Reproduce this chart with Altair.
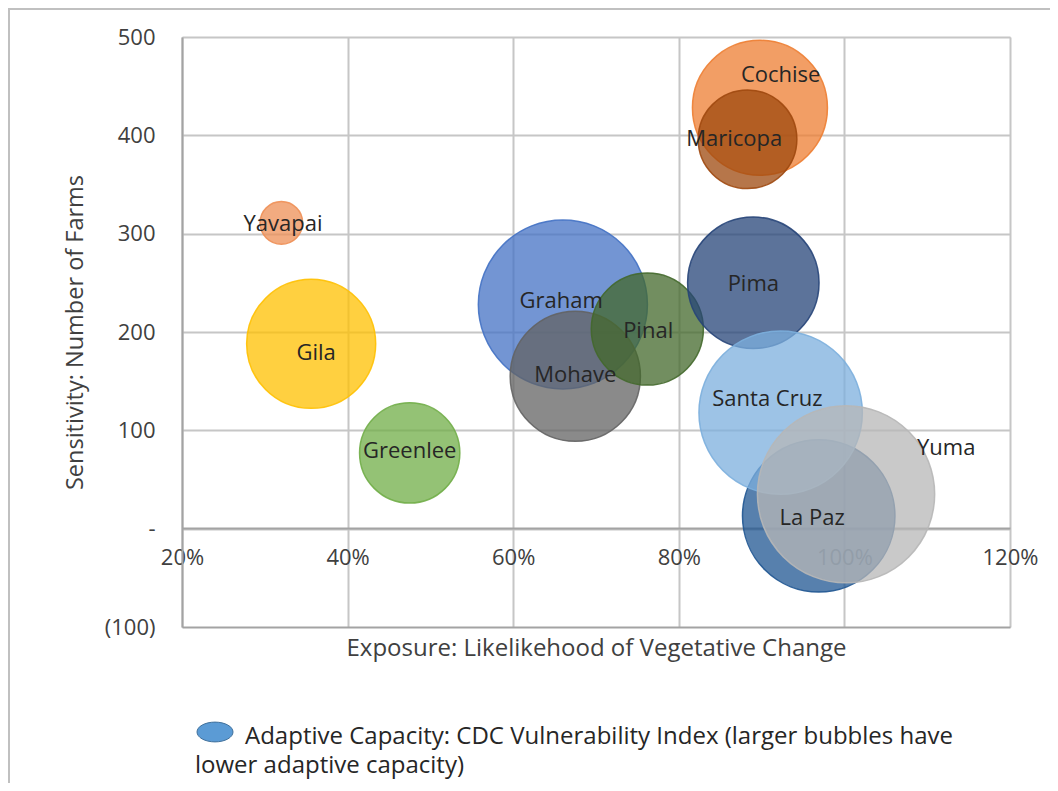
import altair as alt
import pandas as pd

# ---- data ----
counties = ["Cochise", "Maricopa", "Yavapai", "Gila", "Greenlee", "Graham",
            "Mohave", "Pinal", "Pima", "La Paz", "Santa Cruz", "Yuma"]
exposure = [0.898, 0.883, 0.320, 0.356, 0.475, 0.660,
            0.675, 0.762, 0.890, 0.969, 0.923, 1.002]
farms = [428, 396, 311, 188, 77, 228, 155, 203, 250, 13, 118, 35]
capacity = [0.58, 0.31, 0.058, 0.53, 0.32, 0.91, 0.54, 0.40, 0.55, 0.74, 0.85, 1.00]
label_x = [0.923, 0.867, 0.322, 0.362, 0.475, 0.658, 0.675, 0.763, 0.890, 0.961, 0.907, 1.123]
label_y = [461, 396, 310, 179, 79, 232, 156, 201, 249, 11, 132, 82]
colors = ["#ED7D31", "#9E480E", "#EE8F55", "#FFC000", "#70AD47", "#4472C4",
          "#636363", "#43682B", "#264478", "#1F5591", "#7CAFDD", "#B7B7B7"]

x_ticks = [0.2, 0.4, 0.6, 0.8, 1.0, 1.2]
y_ticks = [-100, 0, 100, 200, 300, 400, 500]

x_title = "Exposure: Likelikehood of Vegetative Change"
y_title = "Sensitivity: Number of Farms"
legend_line1 = "Adaptive Capacity: CDC Vulnerability Index (larger bubbles have"
legend_line2 = "lower adaptive capacity)"

FONT = "Open Sans"

df = pd.DataFrame({
    "county": counties,
    "exposure": exposure,
    "farms": farms,
    "capacity": capacity,
    "lx": label_x,
    "ly": label_y,
    "draw": list(range(len(counties))),
})

color_scale = alt.Scale(domain=counties, range=colors)
x_scale = alt.Scale(domain=[0.2, 1.2], nice=False, zero=False)
y_scale = alt.Scale(domain=[-100, 500], nice=False, zero=False)

nb = "\u00a0"
y_label_expr = (
    "datum.value == 0 ? '-" + nb * 3 + "' : (datum.value < 0 ? '(' + format(-datum.value, 'd') + ')' "
    ": format(datum.value, 'd') + '" + nb + "')"
)

x_enc = alt.X(
    "exposure:Q", scale=x_scale,
    axis=alt.Axis(
        values=x_ticks, format=".0%", title=x_title, offset=-99,
        domainColor="#A3A3A3", domainWidth=2, ticks=False, labelFlush=False,
        labelPadding=19, labelFontSize=22, labelColor="#404040", labelFont=FONT,
        gridColor="#C6C6C6", gridWidth=2,
        titleFont=FONT, titleFontSize=24, titleFontWeight="normal", titleColor="#404040",
        titleY=120, titleBaseline="middle",
    ),
)
y_enc = alt.Y(
    "farms:Q", scale=y_scale,
    axis=alt.Axis(
        values=y_ticks, labelExpr=y_label_expr, title=y_title,
        domainColor="#A3A3A3", domainWidth=2, ticks=False,
        labelPadding=27, labelFontSize=22, labelColor="#404040", labelFont=FONT,
        gridColor=alt.ConditionalAxisColor(
            condition={"test": "datum.value === -100", "value": "#A3A3A3"},
            value="#C6C6C6"),
        gridWidth=2,
        titleFont=FONT, titleFontSize=23.5, titleFontWeight="normal", titleColor="#404040",
        titleX=-107, titleY=295, titleBaseline="middle", titleAngle=-90,
    ),
)

bubbles = alt.Chart(df).mark_circle(
    fillOpacity=0.75, strokeOpacity=0.9, strokeWidth=1.5
).encode(
    x=x_enc,
    y=y_enc,
    size=alt.Size("capacity:Q", scale=alt.Scale(domain=[0, 1], range=[0, 31416]), legend=None),
    color=alt.Color("county:N", scale=color_scale, legend=None),
    stroke=alt.Stroke("county:N", scale=color_scale, legend=None),
    order=alt.Order("draw:Q"),
)

labels = alt.Chart(df).mark_text(
    font=FONT, fontSize=22, color="#262626", baseline="middle", align="center"
).encode(
    x=alt.X("lx:Q", scale=x_scale),
    y=alt.Y("ly:Q", scale=y_scale),
    text="county:N",
)

one = pd.DataFrame({"a": [0]})

border_top = alt.Chart(one).mark_rule(color="#C0C0C0", strokeWidth=2).encode(
    x=alt.value(-174), x2=alt.value(868), y=alt.value(-28))
border_left = alt.Chart(one).mark_rule(color="#C0C0C0", strokeWidth=2).encode(
    x=alt.value(-173), y=alt.value(-29), y2=alt.value(750))

ellipse = "M -1 0 A 1 0.55 0 1 1 1 0 A 1 0.55 0 1 1 -1 0 Z"
legend_mark = alt.Chart(one).mark_point(
    shape=ellipse, filled=True, fill="#5B9BD5", stroke="#41719C",
    strokeWidth=1, opacity=1, size=1296
).encode(x=alt.value(33), y=alt.value(695))

legend_t1 = alt.Chart(one).mark_text(
    text=legend_line1, font=FONT, fontSize=24, color="#262626", align="left", baseline="middle"
).encode(x=alt.value(63), y=alt.value(700))
legend_t2 = alt.Chart(one).mark_text(
    text=legend_line2, font=FONT, fontSize=24, color="#262626", align="left", baseline="middle"
).encode(x=alt.value(13), y=alt.value(729))

chart = alt.layer(
    bubbles, labels, border_top, border_left, legend_mark, legend_t1, legend_t2
).properties(
    width=828, height=590,
    autosize=alt.AutoSizeParams(type="none"),
    padding={"left": 174, "top": 29, "right": 40, "bottom": 156},
).configure_view(stroke="transparent").configure(background="white")

chart.save("out.html", embed_options={"renderer": "svg", "actions": False})
